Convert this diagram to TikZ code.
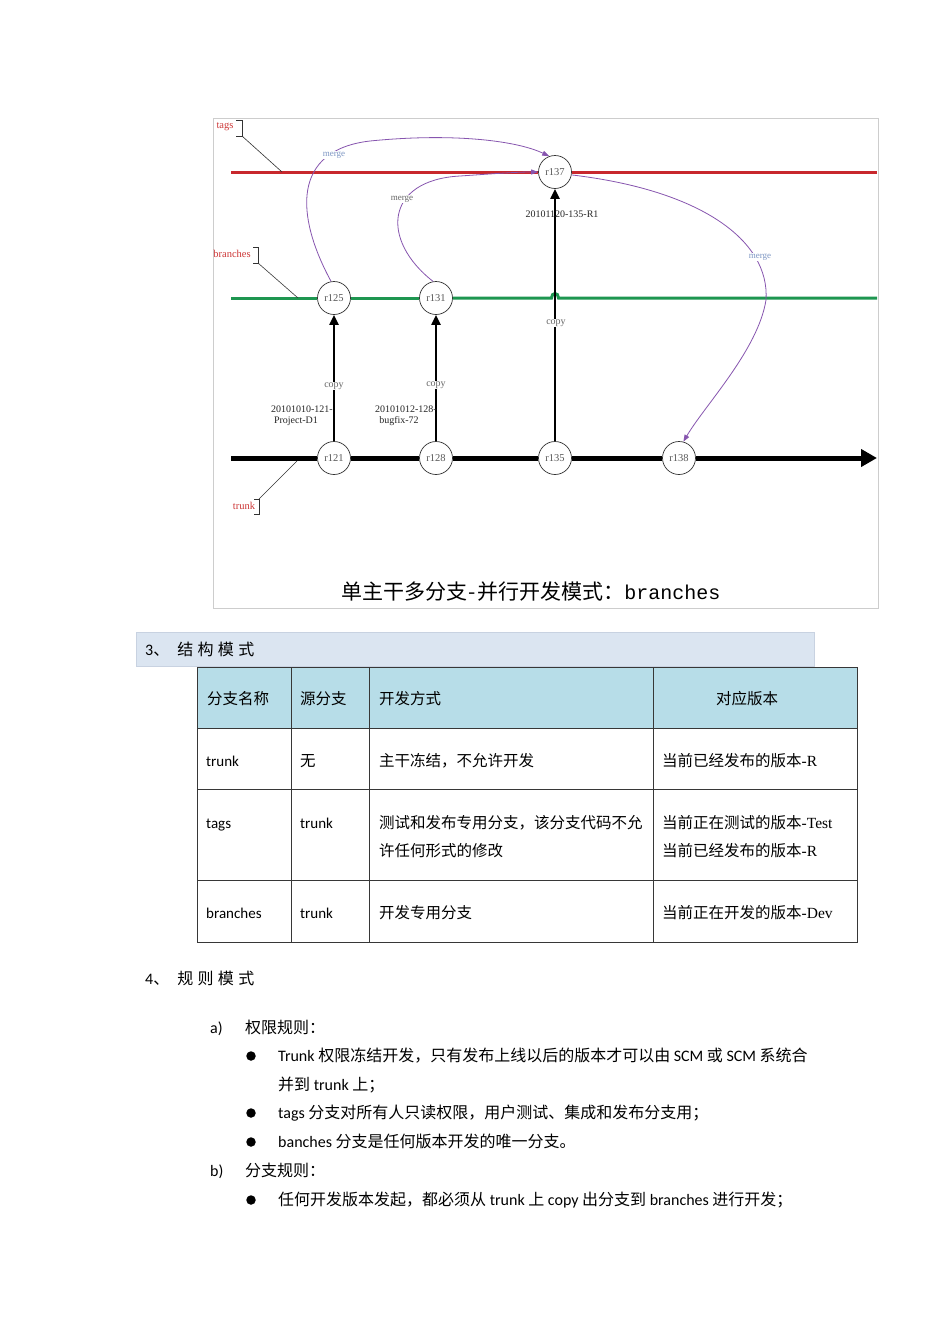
\documentclass[tikz,border=0pt]{standalone}
\usepackage{fontspec}
\setmainfont{Liberation Serif}
\newfontfamily\cjk{Noto Sans CJK SC}
\newfontfamily\cjksp{Noto Sans CJK SC}[LetterSpace=27]
\newfontfamily\calib{Carlito}
\newfontfamily\monofnt{Liberation Mono}
\usetikzlibrary{arrows.meta}
\definecolor{tagred}{RGB}{200,40,45}
\definecolor{brgreen}{RGB}{30,150,80}
\definecolor{mergepurple}{RGB}{135,85,175}
\definecolor{mergelabel}{RGB}{125,150,195}
\definecolor{labelred}{RGB}{205,55,55}
\definecolor{framegray}{RGB}{205,205,205}
\definecolor{barfill}{RGB}{219,229,241}
\definecolor{barline}{RGB}{200,210,225}
\definecolor{headfill}{RGB}{183,221,232}
\definecolor{tableline}{RGB}{55,55,55}
\begin{document}
\begin{tikzpicture}[x=1pt,y=-1pt,
  rev/.style={circle, draw=black!80, line width=0.7pt, fill=white, minimum size=33pt, inner sep=0, font=\fontsize{10.5}{12}\selectfont, text=black!65},
  tagline/.style={draw=tagred, line width=3pt},
  brline/.style={draw=brgreen, line width=3pt},
  trline/.style={draw=black, line width=5pt},
  copyarrow/.style={draw=black, line width=2pt, -{Triangle[length=10pt,width=9pt]}},
  mergeline/.style={draw=mergepurple, line width=0.8pt, -{Triangle[length=7pt,width=5pt]}},
  mergelbl/.style={font=\fontsize{9}{10}\selectfont, text=mergelabel, fill=white, inner sep=1pt},
  copylbl/.style={font=\fontsize{10}{11}\selectfont, text=black!60, fill=white, inner sep=1pt},
  revlbl/.style={font=\fontsize{10}{11}\selectfont, inner sep=0, text=black!85},
  sidelbl/.style={font=\fontsize{10.5}{11}\selectfont, text=labelred, inner sep=0},
  bracket/.style={draw=black!80, line width=0.8pt},
  leader/.style={draw=black!80, line width=0.6pt},
  cjkcell/.style={inner sep=0, anchor=west, text height=12pt, text depth=3pt, font=\cjk\fontsize{15.5}{20}\selectfont},
  latcell/.style={inner sep=0, anchor=west, text height=12pt, text depth=3pt, font=\calib\fontsize{15}{20}\selectfont},
  body/.style={inner sep=0, anchor=west, text height=12.5pt, text depth=3pt, font=\cjk\fontsize{16}{20}\selectfont},
  bodylat/.style={inner sep=0, anchor=west, text height=12.5pt, text depth=3pt, font=\calib\fontsize{16}{20}\selectfont},
  bullet/.style={circle, fill=black, minimum size=9.5pt, inner sep=0},
  gridline/.style={draw=tableline, line width=1pt}
]
\useasboundingbox (0,0) rectangle (950,1344);
\fill[white] (0,0) rectangle (950,1344);

% ---------- figure frame ----------
\draw[framegray, line width=0.8pt] (213,118) rectangle (878,608);

% ---------- revision nodes ----------
\node[rev] (r137) at (555,172) {r137};
\node[rev] (r125) at (334,298) {r125};
\node[rev] (r131) at (436,298) {r131};
\node[rev] (r121) at (334,458) {r121};
\node[rev] (r128) at (436,458) {r128};
\node[rev] (r135) at (555,458) {r135};
\node[rev] (r138) at (679,458) {r138};

% ---------- line end coordinates ----------
\coordinate (tagsL) at (231,172);
\coordinate (tagsR) at (877,172);
\coordinate (brL) at (231,298);
\coordinate (brR) at (877,298);
\coordinate (bumpL) at (551.5,298);
\coordinate (bumpR) at (558.5,298);
\coordinate (trL) at (231,458);
\coordinate (trR) at (877,458);

% tags line
\draw[tagline] (tagsL) -- (r137);
\draw[tagline] (r137) -- (tagsR);
% branches line
\draw[brline] (brL) -- (r125);
\draw[brline] (r125) -- (r131);
\draw[brline] (r131) -- (bumpL) .. controls (551.5,292) and (558.5,292) .. (bumpR) -- (brR);
% trunk line
\draw[trline] (trL) -- (r121);
\draw[trline] (r121) -- (r128);
\draw[trline] (r128) -- (r135);
\draw[trline] (r135) -- (r138);
\draw[trline, -{Triangle[length=16pt,width=17pt]}] (r138) -- (trR);

% copy arrows
\draw[copyarrow] (r121) -- (r125);
\draw[copyarrow] (r128) -- (r131);
\draw[copyarrow] (r135) -- (r137);

\node[copylbl] (c1) at (334,386) {copy};
\node[copylbl] (c2) at (436,385) {copy};
\node[copylbl] (c3) at (556,323) {copy};

% revision labels
\node[revlbl, anchor=east] (l121a) at (333,409) {20101010-121-};
\node[revlbl] (l121b) at (296,421) {Project-D1};
\node[revlbl, anchor=east] (l128a) at (437,409) {20101012-128-};
\node[revlbl] (l128b) at (399,421) {bugfix-72};
\node[revlbl] (l135) at (562,214) {20101120-135-R1};

% merge curves
\draw[mergeline] (r125.100) .. controls (295,215) and (292,150) .. (370,141) .. controls (450,133) and (515,140) .. (r137.110);
\draw[mergeline] (r131.100) .. controls (380,240) and (385,180) .. (460,176) .. controls (490,174) and (515,172) .. (r137.west);
\draw[mergeline] (r137.-10) .. controls (700,190) and (770,240) .. (766,300) .. controls (758,350) and (705,405) .. (r138.75);

\node[mergelbl] (m1) at (334,155) {merge};
\node[mergelbl, text=black!60] (m2) at (402,199) {merge};
\node[mergelbl] (m3) at (760,257) {merge};

% side labels with brackets
\node[sidelbl] (ltags) at (225,127) {tags};
\draw[bracket] (236,120) -- (242,120) -- (242,136) -- (236,136);
\coordinate (tagsB) at (242,136);
\coordinate (tagsE) at (282,172);
\draw[leader] (tagsB) -- (tagsE);

\node[sidelbl] (lbr) at (232,254) {branches};
\draw[bracket] (253,247) -- (258,247) -- (258,263) -- (253,263);
\coordinate (brB) at (258,263);
\coordinate (brE) at (298,298);
\draw[leader] (brB) -- (brE);

\node[sidelbl] (ltr) at (244,506) {trunk};
\draw[bracket] (254,499) -- (259,499) -- (259,514) -- (254,514);
\coordinate (trB) at (259,499);
\coordinate (trE) at (297,461);
\draw[leader] (trB) -- (trE);

% caption
\node[inner sep=0] (cap) at (531,592) {{\cjk\fontsize{21}{24}\selectfont 单主干多分支\makebox[10pt]{-}并行开发模式：}{\monofnt\fontsize{20}{24}\selectfont branches}};

% ---------- section 3 bar ----------
\draw[barline, fill=barfill, line width=0.6pt] (136,632) rectangle (814,666);
\node[inner sep=0, anchor=west] (h3) at (145,649) {{\calib\fontsize{16}{20}\selectfont 3}{\cjk\fontsize{16}{20}\selectfont 、}\hspace{8pt}{\cjksp\fontsize{16}{20}\selectfont 结构模式}};

% ---------- table ----------
\fill[headfill] (197,667) rectangle (857,728);
\draw[gridline] (197,667) rectangle (857,942);
\draw[gridline] (197,728) -- (857,728);
\draw[gridline] (197,789) -- (857,789);
\draw[gridline] (197,880) -- (857,880);
\draw[gridline] (291,667) -- (291,942);
\draw[gridline] (369,667) -- (369,942);
\draw[gridline] (653,667) -- (653,942);

\node[cjkcell] (t11) at (207,700) {分支名称};
\node[cjkcell] (t12) at (300,700) {源分支};
\node[cjkcell] (t13) at (379,700) {开发方式};
\node[cjkcell, anchor=center] (t14) at (747,700) {对应版本};

\node[latcell] (t21) at (206,762) {trunk};
\node[cjkcell] (t22) at (300,762) {无};
\node[cjkcell] (t23) at (379,762) {主干冻结，不允许开发};
\node[cjkcell] (t24) at (662,762) {当前已经发布的版本{\rmfamily-R}};

\node[latcell] (t31) at (206,824) {tags};
\node[latcell] (t32) at (300,824) {trunk};
\node[cjkcell] (t33) at (379,824) {测试和发布专用分支，该分支代码不允};
\node[cjkcell] (t33b) at (379,852) {许任何形式的修改};
\node[cjkcell] (t34) at (662,824) {当前正在测试的版本{\rmfamily-Test}};
\node[cjkcell] (t34b) at (662,852) {当前已经发布的版本{\rmfamily-R}};

\node[latcell] (t41) at (206,914) {branches};
\node[latcell] (t42) at (300,914) {trunk};
\node[cjkcell] (t43) at (379,914) {开发专用分支};
\node[cjkcell] (t44) at (662,914) {当前正在开发的版本{\rmfamily-Dev}};

% ---------- section 4 ----------
\node[inner sep=0, anchor=west] (h4) at (145,978) {{\calib\fontsize{16}{20}\selectfont 4}{\cjk\fontsize{16}{20}\selectfont 、}\hspace{8pt}{\cjksp\fontsize{16}{20}\selectfont 规则模式}};

\node[bodylat] (ia) at (210,1029) {a)};
\node[body] (ta) at (245,1029) {权限规则：};

\node[bullet] (b1) at (251,1056) {};
\node[body] (s1) at (278,1057) {{\calib Trunk} 权限冻结开发，只有发布上线以后的版本才可以由 {\calib SCM} 或 {\calib SCM} 系统合};
\node[body] (s1b) at (278,1086) {并到 {\calib trunk} 上；};
\node[bullet] (b2) at (251,1113) {};
\node[body] (s2) at (278,1114) {{\calib tags} 分支对所有人只读权限，用户测试、集成和发布分支用；};
\node[bullet] (b3) at (251,1142) {};
\node[body] (s3) at (278,1143) {{\calib banches} 分支是任何版本开发的唯一分支。};

\node[bodylat] (ib) at (210,1172) {b)};
\node[body] (tb) at (245,1172) {分支规则：};
\node[bullet] (b4) at (251,1200) {};
\node[body] (s4) at (278,1201) {任何开发版本发起，都必须从 {\calib trunk} 上 {\calib copy} 出分支到 {\calib branches} 进行开发；};
\end{tikzpicture}
\end{document}
